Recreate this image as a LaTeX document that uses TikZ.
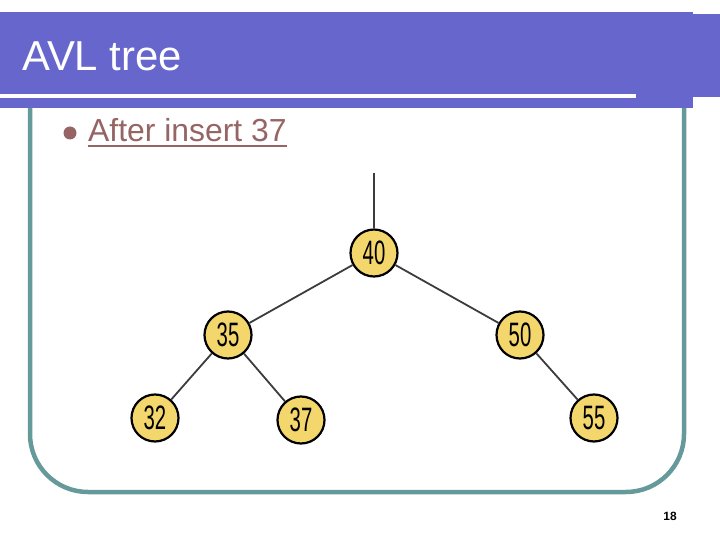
\documentclass[tikz,border=0pt]{standalone}
\usepackage{fontspec}
\usepackage{graphicx}
\setmainfont{Liberation Sans}
\definecolor{barblue}{RGB}{102,102,204}
\definecolor{teal}{RGB}{102,153,153}
\definecolor{bulletbrown}{RGB}{150,100,100}
\definecolor{nodeyellow}{RGB}{243,214,108}
\definecolor{edgegray}{RGB}{60,60,60}
\tikzset{
  avl/.style={circle, draw=black, line width=2.2bp, fill=nodeyellow, minimum size=47bp, inner sep=0pt,
    font=\fontsize{34}{34}\selectfont},
  edge/.style={draw=edgegray, line width=1.8bp}
}
\newcommand{\nnum}[1]{\scalebox{0.6}[1]{#1}}
\begin{document}
\begin{tikzpicture}[x=1bp,y=-1bp]
\useasboundingbox (0,0) rectangle (720,540);
% title bar
\fill[barblue] (0,12) rectangle (693,108);
\fill[barblue] (693,14) rectangle (720,97);
\fill[white] (0,94) rectangle (636,98.5);
\node[anchor=base west, text=white, font=\fontsize{42}{42}\selectfont, inner sep=0pt] (title) at (22,71) {AVL tree};
% frame
\draw[teal, line width=4.5bp, rounded corners=58bp] (30,108) -- (30,492) -- (684,492) -- (684,108);
% bullet
\fill[bulletbrown] (70,133) circle (6.5bp);
\node[anchor=base west, text=bulletbrown, font=\fontsize{32}{32}\selectfont, inner sep=0pt] (sub) at (88,142) {After insert 37};
\draw[bulletbrown, line width=2bp] (88,146) -- (287,146);
% tree
\node[avl] (n40) at (374,253) {\nnum{40}};
\node[avl] (n35) at (228,335) {\nnum{35}};
\node[avl] (n50) at (520,335) {\nnum{50}};
\node[avl] (n32) at (155,418) {\nnum{32}};
\node[avl] (n37) at (301,420) {\nnum{37}};
\node[avl] (n55) at (594,418) {\nnum{55}};
\coordinate (top) at (374,173);
\draw[edge, line width=2.2bp] (top) -- (n40);
\draw[edge] (n40) -- (n35);
\draw[edge] (n40) -- (n50);
\draw[edge] (n35) -- (n32);
\draw[edge] (n35) -- (n37);
\draw[edge] (n50) -- (n55);
% page number
\node[font=\fontsize{12}{12}\selectfont\bfseries, inner sep=0pt] (page) at (670,516) {18};
\end{tikzpicture}
\end{document}
